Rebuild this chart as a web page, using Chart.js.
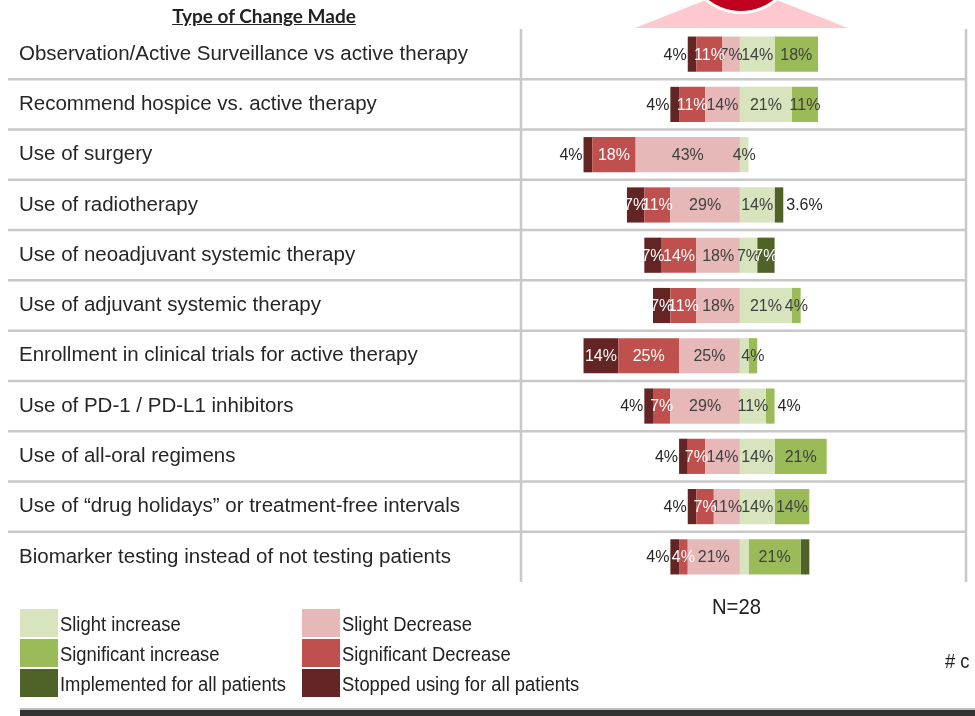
<!DOCTYPE html>
<html>
<head>
<meta charset="utf-8">
<script src="https://cdn.jsdelivr.net/npm/chart.js@4"></script>
<style>
  body { margin: 0; background: #fff; }
  #wrap { position: relative; width: 975px; height: 716px; overflow: hidden; font-family: "Liberation Sans", Arial, sans-serif; }
  #chart { position: absolute; left: 0; top: 0; }
  .abs { position: absolute; white-space: nowrap; }
  #title { left: 144px; top: 4px; width: 240px; text-align: center; font: bold 19px Lato, "Liberation Sans", sans-serif; color: #222; text-decoration: underline; }
  .sw { position: absolute; width: 38px; height: 28px; }
  .narrow { font: 20px "Liberation Sans", Arial, sans-serif; color: #222; transform: scaleX(0.92); transform-origin: left top; }
  .lg { line-height: 20px; }
  #n { left: 712px; top: 594px; font-size: 22px; }
  #hc { left: 945px; top: 650px; }
  #rule1 { left: 20px; top: 708px; width: 955px; height: 2px; background: #bdbdbd; }
  #rule2 { left: 20px; top: 710px; width: 955px; height: 6px; background: #333; }
</style>
</head>
<body>
<div id="wrap">
  <svg class="abs" style="left:0;top:0" width="975" height="40">
    <polygon points="635,28 848,28 741,-14" fill="#fdc9cf"/>
    <circle cx="741" cy="-42" r="56" fill="#fff"/>
    <circle cx="741" cy="-42" r="53" fill="#c0001e"/>
  </svg>
  <canvas id="chart" width="975" height="716"></canvas>
  <div id="title" class="abs">Type of Change Made</div>
  <div id="legend"></div>
  <div id="n" class="abs narrow">N=28</div>
  <div id="hc" class="abs narrow"># c</div>
  <div id="rule1" class="abs"></div>
  <div id="rule2" class="abs"></div>
</div>
<script>
// respondents
var N = 28;

var categories = [
    "Observation/Active Surveillance vs active therapy",
    "Recommend hospice vs. active therapy",
    "Use of surgery",
    "Use of radiotherapy",
    "Use of neoadjuvant systemic therapy",
    "Use of adjuvant systemic therapy",
    "Enrollment in clinical trials for active therapy",
    "Use of PD-1 / PD-L1 inhibitors",
    "Use of all-oral regimens",
    "Use of \u201cdrug holidays\u201d or treatment-free intervals",
    "Biomarker testing instead of not testing patients"
];

// number of respondents per answer (out of N)
var slightDecrease = [2, 4, 12, 8, 5, 5, 7, 8, 4, 3, 6];
var significantDecrease = [3, 3, 5, 3, 4, 3, 7, 2, 2, 2, 1];
var stoppedUsing = [1, 1, 1, 2, 2, 2, 4, 1, 1, 1, 1];
var slightIncrease = [4, 6, 1, 4, 2, 6, 1, 3, 4, 4, 1];
var significantIncrease = [5, 3, 0, 0, 0, 1, 1, 1, 6, 4, 6];
var implementedAll = [0, 0, 0, 1, 2, 0, 0, 0, 0, 0, 1];

// label quirks as on the slide: [row, dataset index]
var hiddenLabels = [[6, 3], [10, 3], [10, 5]];
var outsideRight = [[3, 5], [7, 4]];
var oneDecimal = [[3, 5]];

function has(list, row, ds) {
    return list.some(function (p) { return p[0] === row && p[1] === ds; });
}
function pct(arr, sign) {
    return arr.map(function (c) { return sign * c / N * 100; });
}

var series = [
    { label: "Slight Decrease", data: pct(slightDecrease, -1), color: "#e6b9b8", text: "#404040" },
    { label: "Significant Decrease", data: pct(significantDecrease, -1), color: "#c0504d", text: "#ffffff" },
    { label: "Stopped using for all patients", data: pct(stoppedUsing, -1), color: "#632523", text: "#ffffff" },
    { label: "Slight increase", data: pct(slightIncrease, 1), color: "#d7e4bd", text: "#404040" },
    { label: "Significant increase", data: pct(significantIncrease, 1), color: "#9bbb59", text: "#404040" },
    { label: "Implemented for all patients", data: pct(implementedAll, 1), color: "#4f6228", text: "#ffffff" }
];

// html legend, two columns like the slide
var legendOrder = [[3, 0], [4, 0], [5, 0], [0, 1], [1, 1], [2, 1]];
var legendTops = [609, 639, 669];
var legendHtml = "";
legendOrder.forEach(function (o, i) {
    var s = series[o[0]];
    var left = o[1] === 0 ? 20 : 302;
    var top = legendTops[i % 3];
    legendHtml += '<div class="sw" style="left:' + left + 'px;top:' + top + 'px;background:' + s.color + '"></div>';
    legendHtml += '<div class="lg abs narrow" style="left:' + (left + 40) + 'px;top:' + (top + 5) + 'px">' + s.label + '</div>';
});
document.getElementById("legend").innerHTML = legendHtml;

var tableLines = {
    id: "tableLines",
    beforeDatasetsDraw: function (chart) {
        var ctx = chart.ctx, area = chart.chartArea, y = chart.scales.y;
        ctx.save();
        ctx.strokeStyle = "#c8c8c8";
        ctx.lineWidth = 2.5;
        for (var i = 0; i < categories.length - 1; i++) {
            var py = (y.getPixelForValue(i) + y.getPixelForValue(i + 1)) / 2;
            ctx.beginPath();
            ctx.moveTo(8, py);
            ctx.lineTo(area.right, py);
            ctx.stroke();
        }
        [area.left, area.right].forEach(function (px) {
            ctx.beginPath();
            ctx.moveTo(px, area.top);
            ctx.lineTo(px, area.bottom);
            ctx.stroke();
        });
        ctx.restore();
    }
};

var barLabels = {
    id: "barLabels",
    afterDatasetsDraw: function (chart) {
        var ctx = chart.ctx;
        ctx.save();
        ctx.font = "16px 'Liberation Sans', Arial, sans-serif";
        ctx.textBaseline = "middle";
        chart.data.datasets.forEach(function (ds, d) {
            var meta = chart.getDatasetMeta(d);
            meta.data.forEach(function (bar, i) {
                var v = Math.abs(ds.data[i]);
                if (!v || has(hiddenLabels, i, d)) return;
                var txt = (has(oneDecimal, i, d) ? v.toFixed(1) : Math.round(v)) + "%";
                var left = Math.min(bar.x, bar.base), right = Math.max(bar.x, bar.base);
                var y = bar.y + 1;
                if (d === 2 && v < 4) {
                    ctx.textAlign = "right";
                    ctx.fillStyle = "#262626";
                    ctx.fillText(txt, left - 1, y);
                } else if (has(outsideRight, i, d)) {
                    ctx.textAlign = "left";
                    ctx.fillStyle = "#262626";
                    ctx.fillText(txt, right + 3, y);
                } else {
                    ctx.textAlign = "center";
                    ctx.fillStyle = series[d].text;
                    ctx.fillText(txt, (left + right) / 2, y);
                }
            });
        });
        ctx.restore();
    }
};

var chart = new Chart(document.getElementById("chart").getContext("2d"), {
    type: "bar",
    data: {
        labels: categories,
        datasets: series.map(function (s) {
            return {
                label: s.label,
                data: s.data,
                backgroundColor: s.color,
                borderWidth: 0,
                barPercentage: 0.7,
                categoryPercentage: 1
            };
        })
    },
    options: {
        indexAxis: "y",
        responsive: false,
        animation: false,
        devicePixelRatio: 1,
        layout: { padding: { left: 19, top: 29, right: 9, bottom: 134 } },
        plugins: {
            legend: { display: false },
            tooltip: { enabled: false }
        },
        scales: {
            x: {
                display: false,
                stacked: true,
                min: -90,
                max: 93
            },
            y: {
                stacked: true,
                grid: { display: false },
                border: { display: false },
                afterFit: function (scale) { scale.width = 502; },
                ticks: {
                    crossAlign: "far",
                    autoSkip: false,
                    color: "#262626",
                    font: { family: "'Liberation Sans', Arial, sans-serif", size: 20.5 }
                }
            }
        }
    },
    plugins: [tableLines, barLabels]
});
</script>
</body>
</html>
